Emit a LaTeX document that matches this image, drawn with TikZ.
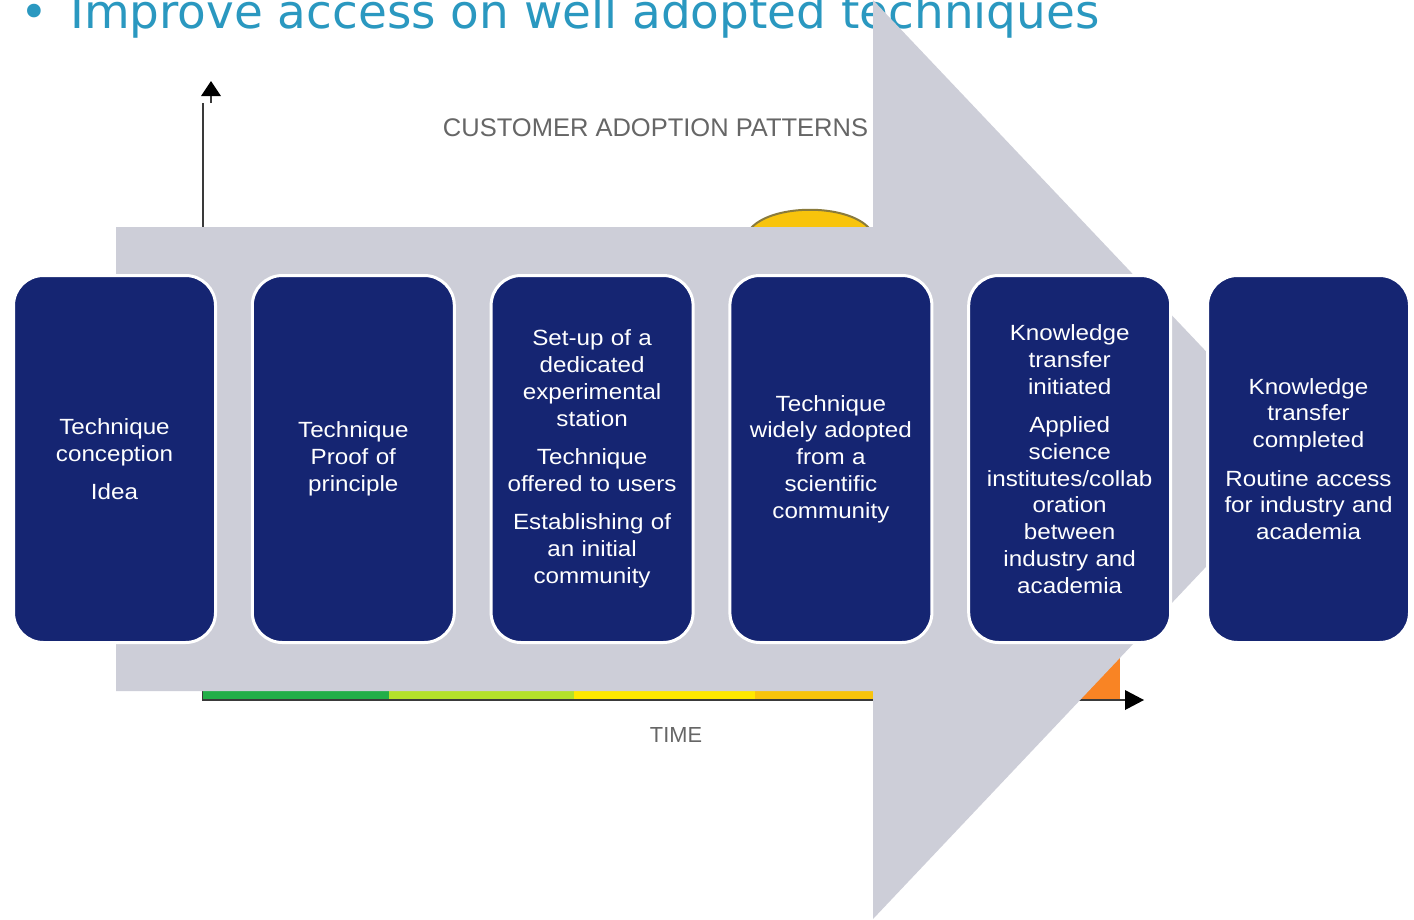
\documentclass[tikz,border=0pt]{standalone}
\usepackage{fontspec}
\setmainfont{Liberation Sans}
\newfontfamily\boxfont[FakeStretch=1.1]{Liberation Sans}
\newfontfamily\headfont{DejaVu Sans}
\definecolor{navy}{HTML}{152572}
\definecolor{arrowgrey}{HTML}{CDCED8}
\definecolor{headteal}{HTML}{2A98C0}
\definecolor{chartgrey}{HTML}{666666}
\definecolor{axisdark}{HTML}{3A3A3A}
\definecolor{bargreen}{HTML}{22AE48}
\definecolor{barlime}{HTML}{B4E12A}
\definecolor{baryellow}{HTML}{FFE800}
\definecolor{bargold}{HTML}{F8C40C}
\definecolor{barorange}{HTML}{F98424}
\definecolor{bellline}{HTML}{8A7B3C}
\begin{document}
\begin{tikzpicture}[x=1pt,y=-1pt,
  stagebox/.style={draw=white, line width=3pt, fill=navy, rounded corners=30pt,
    minimum width=202pt, minimum height=367pt, inner sep=0pt, text=white,
    align=center, text width=200pt,
    font=\boxfont\fontsize{22}{26.8}\selectfont},
  charttext/.style={text=chartgrey, inner sep=0pt, anchor=base},
  axisline/.style={draw=axisdark, line width=2pt}]
\useasboundingbox (0,0) rectangle (1414,919);
\clip (0,0) rectangle (1414,919);
\fill[white] (0,0) rectangle (1414,919);

% slide heading
\node[anchor=base west, inner sep=0pt, text=headteal, font=\headfont\fontsize{47}{50}\selectfont] (bullet) at (20,28) {•};
\node[anchor=base west, inner sep=0pt, text=headteal, font=\headfont\fontsize{46.9}{50}\selectfont] (heading) at (70,28) {Improve access on well adopted techniques};

% chart behind the arrow
\draw[axisline] (203,700) -- (203,103);
\draw[axisline] (211,103) -- (211,95);
\fill[black] (201,96) -- (221,96) -- (211,81) -- cycle;
\node[charttext, font=\fontsize{25.5}{30}\selectfont] (charttitle) at (655.5,136) {CUSTOMER ADOPTION PATTERNS};
\filldraw[fill=bargold, draw=bellline, line width=2pt]
  (735,245) -- (752,227) .. controls (775,204) and (845,204) .. (868,227) -- (885,245) -- cycle;
\fill[bargreen] (203,691) rectangle (389,700);
\fill[barlime] (389,691) rectangle (574,700);
\fill[baryellow] (574,691) rectangle (755,700);
\fill[bargold] (755,691) rectangle (1000,700);
\fill[barorange] (1000,656) rectangle (1120,700);
\draw[axisline] (202,700) -- (1126,700);
\fill[black] (1125,690) -- (1144,700) -- (1125,710) -- cycle;
\node[charttext, font=\fontsize{21.8}{26}\selectfont] (time) at (676,742) {TIME};

% big process arrow
\fill[arrowgrey] (116,227) -- (873,227) -- (873,0) -- (1308,459) -- (873,919) -- (873,691) -- (116,691) -- cycle;

% stage boxes
\node[stagebox] (b1) at (114.5,459) {Technique\\conception\\[11.5pt]Idea};
\node[stagebox] (b2) at (353.3,459) {Technique\\Proof of\\principle};
\node[stagebox] (b3) at (592.1,459) {Set-up of a\\dedicated\\experimental\\station\\[11.5pt]Technique\\offered to users\\[11.5pt]Establishing of\\an initial\\community};
\node[stagebox] (b4) at (830.9,459) {Technique\\widely adopted\\from a\\scientific\\community};
\node[stagebox] (b5) at (1069.7,459) {Knowledge\\transfer\\initiated\\[11.5pt]Applied\\science\\institutes/collab\\oration\\between\\industry and\\academia};
\node[stagebox] (b6) at (1308.5,459) {Knowledge\\transfer\\completed\\[11.5pt]Routine access\\for industry and\\academia};
\end{tikzpicture}
\end{document}
